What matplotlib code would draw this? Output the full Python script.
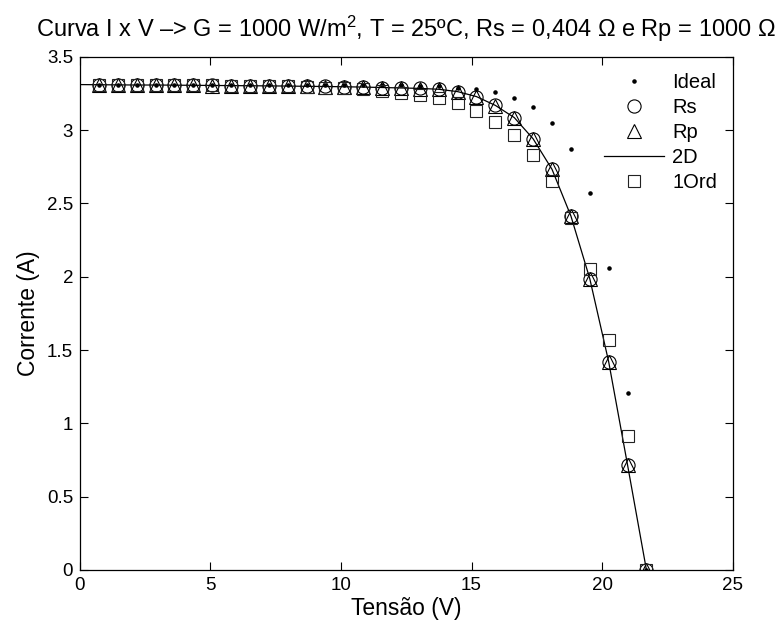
import matplotlib
matplotlib.use("Agg")
import matplotlib.pyplot as plt
import numpy as np

plt.rcParams['font.family'] = ['Liberation Sans', 'DejaVu Sans']
plt.rcParams['mathtext.fontset'] = 'custom'
plt.rcParams['mathtext.rm'] = 'Liberation Sans'
plt.rcParams['mathtext.it'] = 'Liberation Sans'

# tensao (V): 30 pontos ate Voc, mais o ponto V=0 da curva 2D
voc = 21.7
v_pts = [voc * k / 30 for k in range(1, 31)]
v_2d = [0.0] + v_pts

i_ideal = [3.310, 3.310, 3.310, 3.310, 3.310, 3.310, 3.310, 3.310, 3.310, 3.310,
           3.310, 3.310, 3.310, 3.310, 3.309, 3.308, 3.306, 3.303, 3.298, 3.290,
           3.277, 3.257, 3.218, 3.157, 3.050, 2.870, 2.568, 2.061, 1.209, 0.000]

i_rs = [3.309, 3.308, 3.307, 3.307, 3.306, 3.305, 3.304, 3.303, 3.302, 3.301,
        3.300, 3.298, 3.297, 3.295, 3.293, 3.290, 3.287, 3.284, 3.278, 3.262,
        3.228, 3.168, 3.085, 2.940, 2.732, 2.414, 1.986, 1.420, 0.716, 0.000]

i_rp = [3.308, 3.307, 3.306, 3.306, 3.305, 3.304, 3.303, 3.302, 3.301, 3.300,
        3.299, 3.297, 3.296, 3.294, 3.292, 3.289, 3.286, 3.283, 3.277, 3.261,
        3.227, 3.167, 3.084, 2.939, 2.731, 2.413, 1.985, 1.419, 0.715, 0.000]

i_2d = [3.310, 3.309, 3.308, 3.307, 3.307, 3.306, 3.305, 3.304, 3.303, 3.302,
        3.301, 3.300, 3.298, 3.297, 3.295, 3.293, 3.290, 3.287, 3.284, 3.278,
        3.262, 3.228, 3.168, 3.085, 2.940, 2.732, 2.414, 1.986, 1.420, 0.716,
        0.000]

i_1ord = [3.309, 3.309, 3.308, 3.307, 3.306, 3.305, 3.304, 3.303, 3.302, 3.300,
          3.297, 3.294, 3.290, 3.285, 3.278, 3.268, 3.255, 3.239, 3.216, 3.182,
          3.129, 3.058, 2.963, 2.829, 2.650, 2.400, 2.050, 1.570, 0.914, 0.000]

fig = plt.figure(figsize=(7.81, 6.26), dpi=100)
ax = fig.add_axes([0.1024, 0.0895, 0.8356, 0.8199])

ax.plot(v_pts, i_ideal, 'k.', markersize=4.5, label='Ideal')
ax.plot(v_pts, i_rs, 'ko', markersize=9.5, markerfacecolor='none', markeredgewidth=0.8, label='Rs')
ax.plot(v_pts, i_rp, 'k^', markersize=9.5, markerfacecolor='none', markeredgewidth=0.8, label='Rp')
ax.plot(v_2d, i_2d, 'k-', linewidth=0.9, label='2D')
ax.plot(v_pts, i_1ord, 's', color='#222222', markersize=8, markerfacecolor='none',
        markeredgewidth=0.8, label='1Ord')

ax.set_xlim(0, 25)
ax.set_ylim(0, 3.5)
ax.set_xticks([0, 5, 10, 15, 20, 25])
ax.set_yticks([0, 0.5, 1, 1.5, 2, 2.5, 3, 3.5])
ax.set_yticklabels(['0', '0.5', '1', '1.5', '2', '2.5', '3', '3.5'])
ax.tick_params(direction='in', top=True, right=True, length=6, width=0.8,
               labelsize=13.5, pad=5)
for s in ax.spines.values():
    s.set_linewidth(0.9)

ax.set_xlabel('Tensão (V)', fontsize=16.5, labelpad=2)
ax.set_ylabel('Corrente (A)', fontsize=16.5, labelpad=5)
ax.set_title('Curva I x V –> G = 1000 W/m$^2$, T = 25ºC, Rs = 0,404 Ω e Rp = 1000 Ω',
             fontsize=17, pad=14)

ax.legend(loc='upper right', frameon=False, fontsize=14.5, numpoints=1,
          handlelength=3.0, handletextpad=0.4, labelspacing=0.3,
          bbox_to_anchor=(1.004, 1.004))

fig.savefig('out.png', dpi=100)
